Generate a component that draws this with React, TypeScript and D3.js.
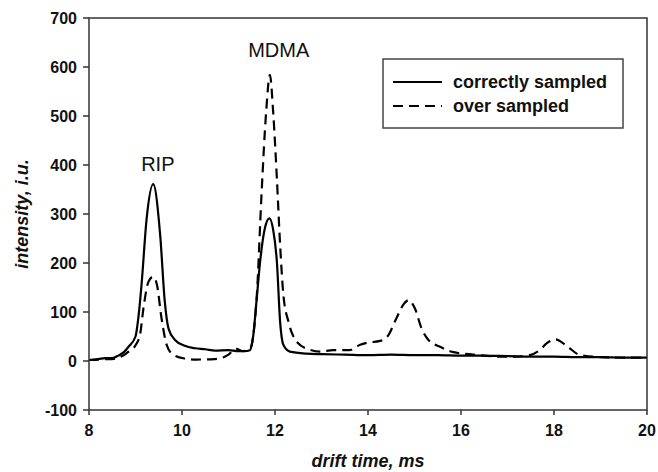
import React from 'react';
import * as d3 from 'd3';

// drift time (ms) and intensity (i.u.)
const solidTime = [8.0, 8.2, 8.35, 8.5, 8.63, 8.75, 8.85, 9.0, 9.06, 9.13, 9.24, 9.38, 9.53, 9.63, 9.71, 9.85, 10.06, 10.28, 10.5, 10.71, 11.0, 11.2, 11.35, 11.46, 11.53, 11.6, 11.68, 11.78, 11.88, 11.96, 12.04, 12.11, 12.18, 12.32, 12.68, 13.0, 13.5, 14.0, 14.5, 15.0, 15.5, 16.0, 16.4, 17.0, 17.5, 18.0, 18.5, 19.0, 19.5, 20.0];
const solidValues = [2, 4, 6, 6, 11, 18, 29, 50, 87, 156, 291, 361, 258, 121, 66, 43, 31, 26, 24, 21, 22, 20, 20, 22, 50, 120, 203, 270, 291, 268, 203, 80, 33, 19, 15, 14, 13, 12, 13, 12, 12, 11, 11, 10, 9, 9, 8, 8, 7, 7];

const dashedTime = [8.0, 8.2, 8.35, 8.5, 8.63, 8.75, 8.85, 9.0, 9.1, 9.17, 9.28, 9.38, 9.46, 9.56, 9.67, 9.81, 10.06, 10.3, 10.7, 10.88, 11.0, 11.17, 11.3, 11.46, 11.53, 11.61, 11.71, 11.81, 11.89, 11.96, 12.04, 12.11, 12.18, 12.29, 12.47, 12.75, 12.97, 13.25, 13.6, 13.83, 13.97, 14.26, 14.44, 14.61, 14.76, 14.87, 15.01, 15.15, 15.3, 15.55, 15.84, 16.27, 16.84, 17.2, 17.48, 17.7, 17.84, 18.04, 18.2, 18.34, 18.49, 18.63, 19.0, 19.5, 20.0];
const dashedValues = [2, 3, 4, 4, 7, 12, 19, 32, 55, 107, 162, 172, 156, 87, 33, 13, 5, 3, 4, 7, 13, 25, 20, 25, 50, 135, 340, 509, 584, 509, 373, 237, 135, 80, 39, 23, 19, 22, 22, 33, 37, 41, 53, 87, 115, 124, 107, 67, 43, 29, 18, 13, 9, 9, 12, 23, 36, 44, 36, 26, 15, 11, 8, 7, 7];

const xTicks = [8, 10, 12, 14, 16, 18, 20];
const yTicks = [-100, 0, 100, 200, 300, 400, 500, 600, 700];
const seriesNames = ['correctly sampled', 'over sampled'];
const peakLabels = ['RIP', 'MDMA'];
const peakLabelTimes = [9.48, 12.08];
const peakLabelValues = [387, 620];

const W = 658;
const H = 472;
const left = 89;
const right = 647;
const top = 18;
const bottom = 410;
const font = '"Liberation Sans", Arial, sans-serif';

export default function App() {
  const x = d3.scaleLinear().domain([8, 20]).range([left, right]);
  const y = d3.scaleLinear().domain([-100, 700]).range([bottom, top]);

  const line = d3
    .line<[number, number]>()
    .x((d) => x(d[0]))
    .y((d) => y(d[1]))
    .curve(d3.curveMonotoneX);

  const solidPath = line(solidTime.map((t, i) => [t, solidValues[i]])) || '';
  const dashedPath = line(dashedTime.map((t, i) => [t, dashedValues[i]])) || '';

  const axisColor = '#333';

  return (
    <svg
      width={W}
      height={H}
      style={{ position: 'absolute', left: 0, top: 0, background: '#fff' }}
      fontFamily={font}
    >
      <rect x={0} y={0} width={W} height={H} fill="#fff" />

      {/* data */}
      <path d={solidPath} fill="none" stroke="#000" strokeWidth={2.2} strokeLinejoin="round" />
      <path d={dashedPath} fill="none" stroke="#000" strokeWidth={2.2} strokeDasharray="10,6" strokeLinejoin="round" />

      {/* frame */}
      <rect x={left} y={top} width={right - left} height={bottom - top} fill="none" stroke={axisColor} strokeWidth={1.5} />

      {/* y axis */}
      {yTicks.map((v) => (
        <g key={'y' + v}>
          <line x1={left - 6} x2={left} y1={y(v)} y2={y(v)} stroke={axisColor} strokeWidth={1.5} />
          <text x={left - 12} y={y(v)} dy="0.36em" textAnchor="end" fontSize={16} fontWeight="bold" fill="#111">
            {v}
          </text>
        </g>
      ))}

      {/* x axis */}
      {xTicks.map((v) => (
        <g key={'x' + v}>
          <line x1={x(v)} x2={x(v)} y1={bottom} y2={bottom + 5} stroke={axisColor} strokeWidth={1.5} />
          <text x={x(v)} y={bottom + 26} textAnchor="middle" fontSize={16} fontWeight="bold" fill="#111">
            {v}
          </text>
        </g>
      ))}

      {/* axis titles */}
      <text x={(left + right) / 2} y={467} textAnchor="middle" fontSize={18} fontWeight="bold" fontStyle="italic" fill="#111">
        drift time, ms
      </text>
      <text
        transform={`translate(28,${(top + bottom) / 2}) rotate(-90)`}
        textAnchor="middle"
        fontSize={18}
        fontWeight="bold"
        fontStyle="italic"
        fill="#111"
      >
        intensity, i.u.
      </text>

      {/* peak labels */}
      {peakLabels.map((l, i) => (
        <text key={l} x={x(peakLabelTimes[i])} y={y(peakLabelValues[i])} textAnchor="middle" fontSize={20} fill="#111">
          {l}
        </text>
      ))}

      {/* legend */}
      <rect x={383} y={59} width={240} height={69} fill="#fff" stroke="#444" strokeWidth={1.5} />
      <line x1={393} x2={442} y1={82} y2={82} stroke="#000" strokeWidth={2.2} />
      <line x1={393} x2={442} y1={106} y2={106} stroke="#000" strokeWidth={2.2} strokeDasharray="10,6" />
      <text x={453} y={88} fontSize={18} fontWeight="bold" fill="#111">
        {seriesNames[0]}
      </text>
      <text x={453} y={112} fontSize={18} fontWeight="bold" fill="#111">
        {seriesNames[1]}
      </text>
    </svg>
  );
}
